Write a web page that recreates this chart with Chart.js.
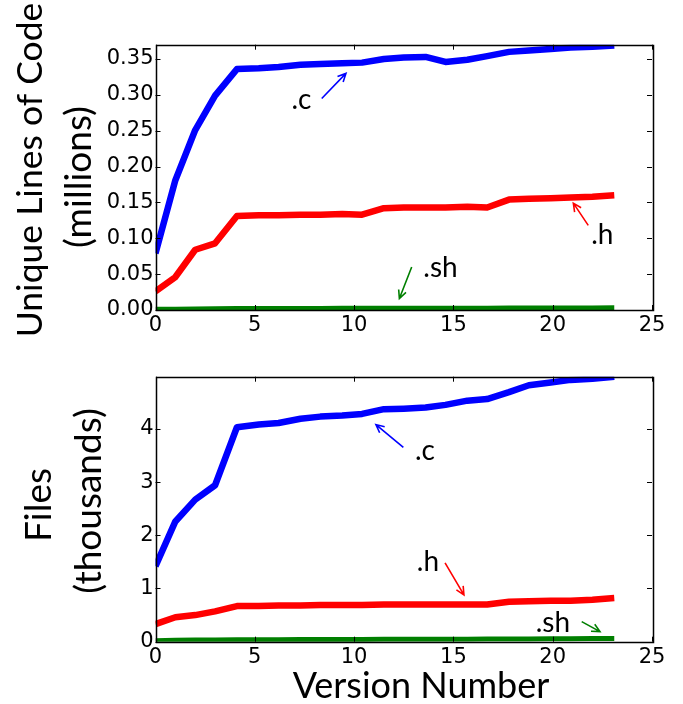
<!DOCTYPE html>
<html>
<head>
<meta charset="utf-8">
<script src="https://cdn.jsdelivr.net/npm/chart.js@4.4.1/dist/chart.umd.min.js"></script>
<style>
  html, body { margin: 0; padding: 0; background: #fff; }
  #wrap { position: relative; width: 683px; height: 704px; }
  canvas { position: absolute; left: 0; }
</style>
</head>
<body>
<div id="wrap">
  <canvas id="locChart" width="683" height="345" style="top:0"></canvas>
  <canvas id="filesChart" width="683" height="359" style="top:345px"></canvas>
</div>
<script>
// version positions on the x axis
const versions = [0, 1, 2, 3, 4.1, 5.2, 6.2, 7.3, 8.3, 9.4, 10.4, 11.5, 12.5, 13.6, 14.6, 15.7, 16.7, 17.8, 18.8, 19.9, 20.9, 22.0, 23.1];

// unique lines of code (millions)
const locC = [0.079, 0.181, 0.251, 0.299, 0.336, 0.337, 0.339, 0.342, 0.343, 0.344, 0.345, 0.350, 0.352, 0.353, 0.346, 0.349, 0.354, 0.360, 0.362, 0.364, 0.366, 0.367, 0.369];
const locH = [0.026, 0.046, 0.084, 0.093, 0.131, 0.132, 0.132, 0.133, 0.133, 0.134, 0.133, 0.142, 0.143, 0.143, 0.143, 0.144, 0.143, 0.154, 0.155, 0.156, 0.157, 0.158, 0.160];
const locSh = [0.001, 0.0012, 0.0015, 0.0017, 0.002, 0.002, 0.0021, 0.0022, 0.0022, 0.0023, 0.0023, 0.0024, 0.0024, 0.0025, 0.0025, 0.0026, 0.0026, 0.0027, 0.0027, 0.0028, 0.0028, 0.0029, 0.003];

// files (thousands)
const filesC = [1.42, 2.26, 2.67, 2.94, 4.03, 4.08, 4.11, 4.19, 4.23, 4.25, 4.28, 4.37, 4.38, 4.40, 4.45, 4.53, 4.56, 4.69, 4.82, 4.87, 4.92, 4.94, 4.98];
const filesH = [0.33, 0.46, 0.50, 0.57, 0.67, 0.67, 0.68, 0.68, 0.69, 0.69, 0.69, 0.70, 0.70, 0.70, 0.70, 0.70, 0.70, 0.75, 0.76, 0.77, 0.77, 0.79, 0.82];
const filesSh = [0.02, 0.025, 0.03, 0.032, 0.035, 0.037, 0.038, 0.04, 0.041, 0.042, 0.043, 0.044, 0.045, 0.046, 0.047, 0.048, 0.049, 0.05, 0.052, 0.054, 0.056, 0.058, 0.06];

const xTicks = [0, 5, 10, 15, 20, 25];
const locTicks = [0, 0.05, 0.10, 0.15, 0.20, 0.25, 0.30, 0.35];
const filesTicks = [0, 1, 2, 3, 4];

const labelFont = 'Lato, "Open Sans", sans-serif';
const tickFont = '"DejaVu Sans", sans-serif';

const toPoints = (ys) => ys.map((y, i) => ({ x: versions[i], y: y }));

const lineSet = (label, ys, color, width) => ({
  label: label,
  data: toPoints(ys),
  borderColor: color,
  backgroundColor: color,
  borderWidth: width,
  pointRadius: 0,
  borderJoinStyle: 'round',
  tension: 0
});

// frame, inside ticks, axis titles and arrow notes
const decor = {
  id: 'decor',
  afterDraw(chart, args, opts) {
    const ctx = chart.ctx;
    const a = chart.chartArea;
    const xs = chart.scales.x, ys = chart.scales.y;
    ctx.save();
    ctx.strokeStyle = '#000';
    ctx.lineWidth = 1;
    ctx.beginPath();
    xTicks.forEach(v => {
      const px = Math.round(xs.getPixelForValue(v)) + 0.5;
      ctx.moveTo(px, a.bottom); ctx.lineTo(px, a.bottom - 5);
      ctx.moveTo(px, a.top); ctx.lineTo(px, a.top + 5);
    });
    opts.yTicks.forEach(v => {
      const py = Math.round(ys.getPixelForValue(v)) + 0.5;
      ctx.moveTo(a.left, py); ctx.lineTo(a.left + 5, py);
      ctx.moveTo(a.right, py); ctx.lineTo(a.right - 5, py);
    });
    ctx.stroke();
    ctx.lineWidth = 1.5;
    ctx.strokeRect(Math.round(a.left) + 0.5, Math.round(a.top) + 0.5, Math.round(a.right - a.left), Math.round(a.bottom - a.top));

    // axis titles
    ctx.fillStyle = '#000';
    ctx.textAlign = 'center';
    ctx.textBaseline = 'middle';
    opts.yTitles.forEach(t => {
      ctx.save();
      ctx.translate(t.x, t.y);
      ctx.rotate(-Math.PI / 2);
      ctx.font = t.size + 'px ' + labelFont;
      ctx.fillText(t.text, 0, 0);
      ctx.restore();
    });
    if (opts.xTitle) {
      ctx.font = opts.xTitle.size + 'px ' + labelFont;
      ctx.fillText(opts.xTitle.text, opts.xTitle.x, opts.xTitle.y);
    }

    // notes with arrows
    opts.notes.forEach(n => {
      ctx.font = '28px ' + labelFont;
      ctx.fillStyle = '#000';
      ctx.fillText(n.text, xs.getPixelForValue(n.tx), ys.getPixelForValue(n.ty));
      const x0 = xs.getPixelForValue(n.from[0]), y0 = ys.getPixelForValue(n.from[1]);
      const x1 = xs.getPixelForValue(n.to[0]), y1 = ys.getPixelForValue(n.to[1]);
      const ang = Math.atan2(y1 - y0, x1 - x0);
      ctx.strokeStyle = n.color;
      ctx.lineWidth = 1.6;
      ctx.beginPath();
      ctx.moveTo(x0, y0); ctx.lineTo(x1, y1);
      ctx.moveTo(x1 - 9 * Math.cos(ang - 0.45), y1 - 9 * Math.sin(ang - 0.45));
      ctx.lineTo(x1, y1);
      ctx.lineTo(x1 - 9 * Math.cos(ang + 0.45), y1 - 9 * Math.sin(ang + 0.45));
      ctx.stroke();
    });
    ctx.restore();
  }
};

const makeOptions = (yMax, yStep, yFmt, padTop, xHeight, decorOpts) => ({
  responsive: false,
  animation: false,
  layout: { padding: { left: 0, top: padTop, right: 31, bottom: 0 } },
  plugins: { legend: { display: false }, tooltip: { enabled: false }, decor: decorOpts },
  scales: {
    x: {
      type: 'linear',
      min: 0, max: 25,
      grid: { display: false, drawTicks: false },
      border: { display: false },
      ticks: { stepSize: 5, padding: 3, color: '#000', font: { family: tickFont, size: 21 } },
      afterFit: (s) => { s.height = xHeight; }
    },
    y: {
      min: 0, max: yMax,
      grid: { display: false, drawTicks: false },
      border: { display: false },
      ticks: { stepSize: yStep, includeBounds: false, padding: 2, color: '#000', font: { family: tickFont, size: 21 }, callback: yFmt },
      afterFit: (s) => { s.width = 155.5; }
    }
  }
});

new Chart(document.getElementById('locChart'), {
  type: 'line',
  data: {
    datasets: [
      lineSet('.c', locC, '#0000ff', 6.5),
      lineSet('.h', locH, '#ff0000', 6.5),
      lineSet('.sh', locSh, '#007f00', 5)
    ]
  },
  options: makeOptions(0.37, 0.05, (v) => v.toFixed(2), 44.7, 35, {
    yTicks: locTicks,
    yTitles: [
      { text: 'Unique Lines of Code', x: 31, y: 170, size: 35.5 },
      { text: '(millions)', x: 79, y: 177, size: 37 }
    ],
    notes: [
      { text: '.c', tx: 7.35, ty: 0.293, from: [8.37, 0.295], to: [9.59, 0.330], color: '#0000ff' },
      { text: '.h', tx: 22.5, ty: 0.104, from: [21.79, 0.118], to: [21.04, 0.149], color: '#ff0000' },
      { text: '.sh', tx: 14.35, ty: 0.059, from: [12.9, 0.060], to: [12.28, 0.016], color: '#007f00' }
    ]
  }),
  plugins: [decor]
});

new Chart(document.getElementById('filesChart'), {
  type: 'line',
  data: {
    datasets: [
      lineSet('.c', filesC, '#0000ff', 6.5),
      lineSet('.h', filesH, '#ff0000', 6.5),
      lineSet('.sh', filesSh, '#007f00', 5)
    ]
  },
  options: makeOptions(4.98, 1, (v) => String(v), 31.7, 62.3, {
    yTicks: filesTicks,
    yTitles: [
      { text: 'Files', x: 39, y: 160, size: 37 },
      { text: '(thousands)', x: 89, y: 156, size: 37 }
    ],
    xTitle: { text: 'Version Number', x: 421, y: 341, size: 36 },
    notes: [
      { text: '.c', tx: 13.57, ty: 3.58, from: [12.48, 3.65], to: [11.1, 4.08], color: '#0000ff' },
      { text: '.h', tx: 13.72, ty: 1.50, from: [14.58, 1.48], to: [15.53, 0.88], color: '#ff0000' },
      { text: '.sh', tx: 20.01, ty: 0.36, from: [21.46, 0.377], to: [22.38, 0.189], color: '#007f00' }
    ]
  }),
  plugins: [decor]
});
</script>
</body>
</html>
